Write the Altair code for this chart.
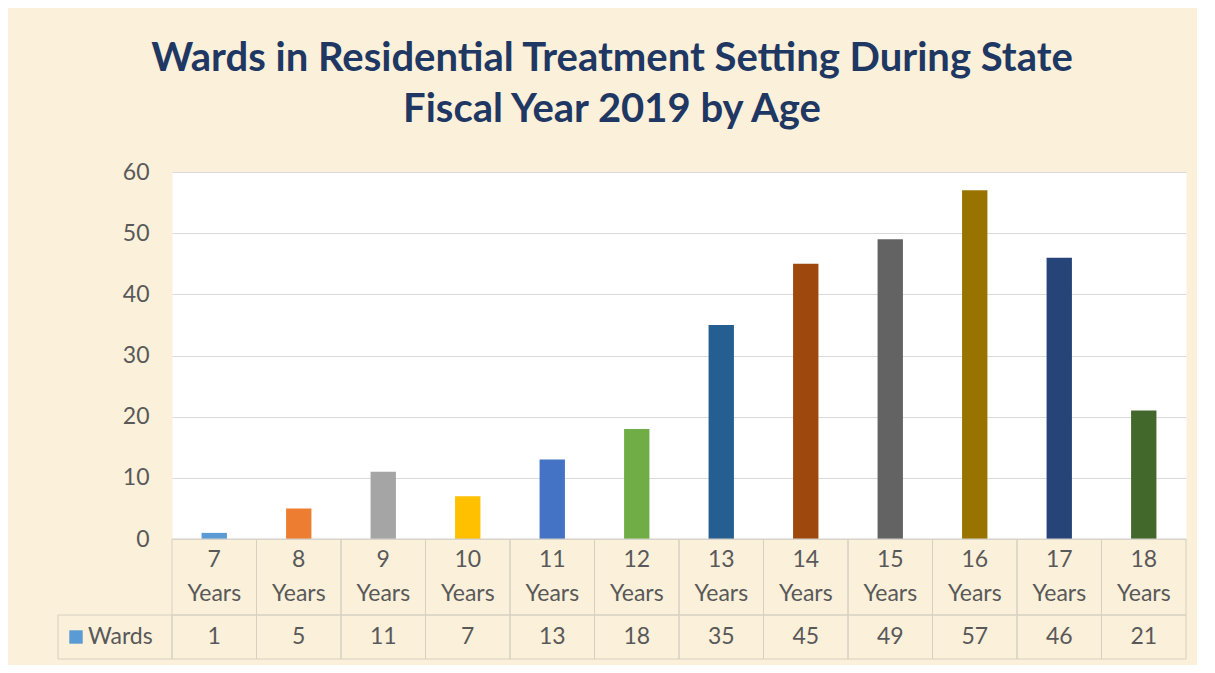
import altair as alt
import pandas as pd

# ---- data ----
ages = ["7", "8", "9", "10", "11", "12", "13", "14", "15", "16", "17", "18"]
unit = "Years"
wards = [1, 5, 11, 7, 13, 18, 35, 45, 49, 57, 46, 21]
bar_colors = ["#5B9BD5", "#ED7D31", "#A5A5A5", "#FFC000", "#4472C4", "#70AD47",
              "#255E91", "#9E480E", "#636363", "#997300", "#264478", "#43682B"]
series_name = "Wards"
series_color = "#5B9BD5"
title_lines = ["Wards in Residential Treatment Setting During State",
               "Fiscal Year 2019 by Age"]
y_ticks = [0, 10, 20, 30, 40, 50, 60]

df = pd.DataFrame({
    "age": [f"{a} {unit}" for a in ages],
    "label": [f"{a}\n{unit}" for a in ages],
    "wards": wards,
    "color": bar_colors,
})
legend_df = pd.DataFrame({"series": [series_name]})

FONT = "Lato"
TXT = "#595959"
GRID = "#D9D9D9"
TBL = "#D6D0C2"
W = 1014
H = 367
ROW1 = 76
ROW2 = 44
LEG_W = 114
LINE_H = 34

order = list(df["age"])
xenc = alt.X("age:N", sort=order, axis=None,
             scale=alt.Scale(paddingInner=0, paddingOuter=0))

bars = alt.Chart(df).mark_bar(width=alt.RelativeBandSize(0.3)).encode(
    x=xenc,
    y=alt.Y("wards:Q", scale=alt.Scale(domain=[0, 60], nice=False),
            axis=alt.Axis(values=y_ticks, title=None, domain=False, ticks=False,
                          labelFontSize=23, labelColor=TXT, labelFont=FONT,
                          labelPadding=23, gridColor=GRID, gridWidth=1)),
    color=alt.Color("color:N", scale=None),
).properties(width=W, height=H, view=alt.ViewBackground(fill="white", stroke="transparent"))

cat_cells = alt.Chart(df).mark_rect(fill="white", fillOpacity=0, stroke=TBL, strokeWidth=1).encode(
    x=xenc, y=alt.value(0), y2=alt.value(ROW1))
cat_text = alt.Chart(df).mark_text(lineBreak="\n", fontSize=23, font=FONT, color=TXT,
                                   lineHeight=LINE_H, baseline="middle").encode(
    x=xenc, y=alt.value(ROW1 / 2 - LINE_H / 2), text="label:N")
cat_row = (cat_cells + cat_text).properties(
    width=W, height=ROW1, view=alt.ViewBackground(stroke="transparent"))

val_cells = alt.Chart(df).mark_rect(fill="white", fillOpacity=0, stroke=TBL, strokeWidth=1).encode(
    x=xenc, y=alt.value(0), y2=alt.value(ROW2))
val_text = alt.Chart(df).mark_text(fontSize=23, font=FONT, color=TXT, baseline="middle").encode(
    x=xenc, y=alt.value(ROW2 / 2), text="wards:Q")
leg_cell = alt.Chart(legend_df).mark_rect(fill="white", fillOpacity=0, stroke=TBL, strokeWidth=1).encode(
    x=alt.value(-LEG_W), x2=alt.value(0), y=alt.value(0), y2=alt.value(ROW2))
leg_sym = alt.Chart(legend_df).mark_square(size=180, color=series_color, opacity=1).encode(
    x=alt.value(-96), y=alt.value(ROW2 / 2))
leg_text = alt.Chart(legend_df).mark_text(fontSize=23, font=FONT, color=TXT, align="left",
                                          baseline="middle").encode(
    x=alt.value(-84), y=alt.value(ROW2 / 2), text="series:N")
val_row = (val_cells + val_text + leg_cell + leg_sym + leg_text).properties(
    width=W, height=ROW2, view=alt.ViewBackground(stroke="transparent"))

chart = alt.vconcat(bars, cat_row, val_row, spacing=0, bounds="flush").properties(
    title=alt.TitleParams(text=title_lines, fontSize=40, font=FONT, fontWeight="bold",
                          color="#1F3763", lineHeight=51, anchor="middle", offset=31, dx=-10),
    padding={"left": 49, "top": 30, "right": 10, "bottom": 5},
).configure(background="#FBF0D9")

chart.save("out.html", embed_options={"renderer": "svg", "actions": False})
